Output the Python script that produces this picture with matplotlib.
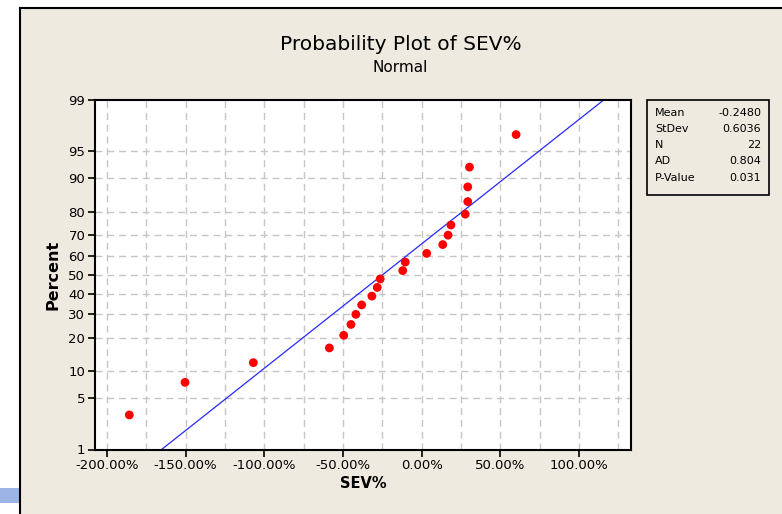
import matplotlib.pyplot as plt
from matplotlib.patches import Rectangle
from statistics import NormalDist

# --- data (SEV% values, sorted) ---
sev_pct = [-185.7, -150.3, -106.9, -58.6, -49.5, -44.9, -41.8, -38.1, -31.6, -28.2, -26.3,
           -12.0, -10.4, 3.2, 13.4, 16.8, 18.6, 27.7, 29.3, 29.3, 30.4, 60.0]
percent = [3.1, 7.6, 12.1, 16.5, 21.0, 25.4, 29.9, 34.4, 38.8, 43.3, 47.8,
           52.2, 56.7, 61.2, 65.6, 70.1, 74.6, 79.0, 83.5, 87.9, 92.4, 96.9]

y_ticks = [1, 5, 10, 20, 30, 40, 50, 60, 70, 80, 90, 95, 99]
x_ticks = [-200, -150, -100, -50, 0, 50, 100]
x_grid = [-200, -175, -150, -125, -100, -75, -50, -25, 0, 25, 50, 75, 100, 125]

stat_names = ["Mean", "StDev", "N", "AD", "P-Value"]
stat_values = ["-0.2480", "0.6036", "22", "0.804", "0.031"]
mean_fit = -0.2480
sd_fit = 0.6036

nd = NormalDist()
def z(p):
    return nd.inv_cdf(p / 100.0)

W, H = 782, 514
bg = "#EEEAE0"
fig = plt.figure(figsize=(W / 100, H / 100), dpi=100, facecolor="white")

# window frame
fig.patches.append(Rectangle((20 / W, 0), 1, (H - 8) / H, transform=fig.transFigure,
                             facecolor=bg, edgecolor="none", zorder=-5))
fig.add_artist(plt.Line2D([20 / W, 1], [(H - 8) / H] * 2, transform=fig.transFigure, color="black", lw=1.5))
fig.add_artist(plt.Line2D([20 / W] * 2, [0, (H - 8) / H], transform=fig.transFigure, color="black", lw=1.5))
fig.patches.append(Rectangle((0, (H - 503) / H), 19 / W, 15 / H, transform=fig.transFigure,
                             facecolor="#9DB5E6", edgecolor="none", zorder=-5))

ax = fig.add_axes([95 / W, (H - 449.5) / H, 536 / W, 349.5 / H])
ax.set_facecolor("white")

# grid
for gx in x_grid:
    ax.axvline(gx, color="#C6C6C6", lw=1, ls=(0, (5, 3.5)), zorder=1)
for t in y_ticks[1:-1]:
    ax.axhline(z(t), color="#C6C6C6", lw=1, ls=(0, (5, 3.5)), zorder=1)

# fitted line from mean / stdev
zl, zh = z(1), z(99)
ax.plot([100 * (mean_fit + sd_fit * zl), 100 * (mean_fit + sd_fit * zh)], [zl, zh],
        color="#2828FF", lw=0.9, zorder=2)

ax.scatter(sev_pct, [z(p) for p in percent], s=40, color="#FF0000", edgecolors="none", zorder=3)

ax.set_xlim(-207.5, 133)
ax.set_ylim(z(1), z(99))
ax.set_xticks(x_ticks)
ax.set_xticklabels([f"{v:.2f}%" for v in x_ticks])
ax.set_yticks([z(t) for t in y_ticks])
ax.set_yticklabels([str(t) for t in y_ticks])
ax.tick_params(direction="out", length=5, width=1.2, labelsize=9.5, pad=2, colors="black")
for s in ax.spines.values():
    s.set_linewidth(1.5)

ax.set_xlabel("SEV%", fontsize=10.5, fontweight="bold", labelpad=3)
ax.set_ylabel("Percent", fontsize=11.5, fontweight="bold", labelpad=6)

fig.text(401 / W, 1 - 45 / H, "Probability Plot of SEV%", ha="center", va="center", fontsize=14.5)
fig.text(400 / W, 1 - 68 / H, "Normal", ha="center", va="center", fontsize=11)

# stats box
fig.patches.append(Rectangle((647 / W, (H - 195) / H), 122 / W, 95 / H, transform=fig.transFigure,
                             facecolor="none", edgecolor="black", lw=1.2))
for i, (n, v) in enumerate(zip(stat_names, stat_values)):
    yy = 1 - (112.5 + i * 16.3) / H
    fig.text(655 / W, yy, n, ha="left", va="center", fontsize=8)
    fig.text(761 / W, yy, v, ha="right", va="center", fontsize=8)

fig.savefig("out.png", dpi=100, facecolor="white")
